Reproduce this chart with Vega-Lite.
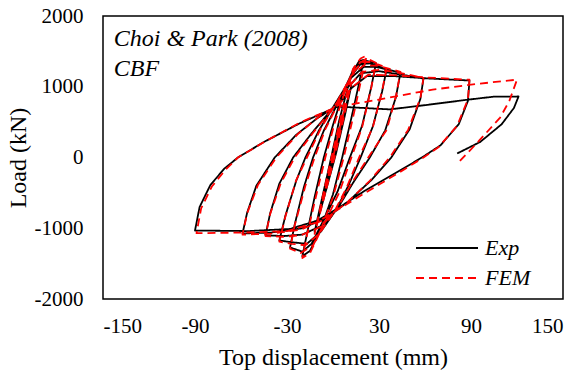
{
  "$schema": "https://vega.github.io/schema/vega-lite/v6.json",
  "width": 460,
  "height": 283,
  "autosize": {"type": "none"},
  "padding": {"left": 103, "top": 16, "right": 18, "bottom": 73},
  "background": "white",
  "config": {
    "view": {"stroke": "black", "strokeWidth": 1.5},
    "font": "Times New Roman, Liberation Serif, serif",
    "axis": {
      "labelFont": "Times New Roman, Liberation Serif, serif", "labelFontSize": 21, "labelColor": "black",
      "titleFont": "Times New Roman, Liberation Serif, serif", "titleFontSize": 24, "titleFontWeight": "normal", "titleColor": "black",
      "ticks": false, "grid": false, "domain": false
    },
    "legend": {"labelFont": "Times New Roman, Liberation Serif, serif"}
  },
  "datasets": {
    "curves": [
      {"series": "Exp", "i": 0, "x": 0, "y": 0},
      {"series": "Exp", "i": 1, "x": 7, "y": 620},
      {"series": "Exp", "i": 2, "x": 3, "y": 250},
      {"series": "Exp", "i": 3, "x": -1, "y": -100},
      {"series": "Exp", "i": 4, "x": -7, "y": -620},
      {"series": "Exp", "i": 5, "x": -3, "y": -230},
      {"series": "Exp", "i": 6, "x": 1, "y": 120},
      {"series": "Exp", "i": 7, "x": 12, "y": 1020},
      {"series": "Exp", "i": 8, "x": 8, "y": 620},
      {"series": "Exp", "i": 9, "x": 2, "y": 60},
      {"series": "Exp", "i": 10, "x": -4, "y": -420},
      {"series": "Exp", "i": 11, "x": -12, "y": -1050},
      {"series": "Exp", "i": 12, "x": -8, "y": -660},
      {"series": "Exp", "i": 13, "x": -2, "y": -80},
      {"series": "Exp", "i": 14, "x": 4, "y": 520},
      {"series": "Exp", "i": 15, "x": 12, "y": 1180},
      {"series": "Exp", "i": 16, "x": 17, "y": 1360},
      {"series": "Exp", "i": 17, "x": 20, "y": 1380},
      {"series": "Exp", "i": 18, "x": 17, "y": 1050},
      {"series": "Exp", "i": 19, "x": 12, "y": 560},
      {"series": "Exp", "i": 20, "x": 6, "y": 0},
      {"series": "Exp", "i": 21, "x": 0, "y": -520},
      {"series": "Exp", "i": 22, "x": -8, "y": -1010},
      {"series": "Exp", "i": 23, "x": -15, "y": -1320},
      {"series": "Exp", "i": 24, "x": -20, "y": -1395},
      {"series": "Exp", "i": 25, "x": -17, "y": -1080},
      {"series": "Exp", "i": 26, "x": -12, "y": -560},
      {"series": "Exp", "i": 27, "x": -6, "y": 0},
      {"series": "Exp", "i": 28, "x": 0, "y": 460},
      {"series": "Exp", "i": 29, "x": 6, "y": 880},
      {"series": "Exp", "i": 30, "x": 14, "y": 1280},
      {"series": "Exp", "i": 31, "x": 21, "y": 1370},
      {"series": "Exp", "i": 32, "x": 28, "y": 1330},
      {"series": "Exp", "i": 33, "x": 25, "y": 1000},
      {"series": "Exp", "i": 34, "x": 19, "y": 450},
      {"series": "Exp", "i": 35, "x": 11, "y": 0},
      {"series": "Exp", "i": 36, "x": 3, "y": -480},
      {"series": "Exp", "i": 37, "x": -6, "y": -880},
      {"series": "Exp", "i": 38, "x": -14, "y": -1220},
      {"series": "Exp", "i": 39, "x": -20, "y": -1330},
      {"series": "Exp", "i": 40, "x": -28, "y": -1272},
      {"series": "Exp", "i": 41, "x": -25, "y": -950},
      {"series": "Exp", "i": 42, "x": -19, "y": -420},
      {"series": "Exp", "i": 43, "x": -13, "y": 0},
      {"series": "Exp", "i": 44, "x": -6, "y": 380},
      {"series": "Exp", "i": 45, "x": 3, "y": 760},
      {"series": "Exp", "i": 46, "x": 11, "y": 1130},
      {"series": "Exp", "i": 47, "x": 18, "y": 1320},
      {"series": "Exp", "i": 48, "x": 24, "y": 1330},
      {"series": "Exp", "i": 49, "x": 35, "y": 1250},
      {"series": "Exp", "i": 50, "x": 32, "y": 930},
      {"series": "Exp", "i": 51, "x": 26, "y": 440},
      {"series": "Exp", "i": 52, "x": 18, "y": 0},
      {"series": "Exp", "i": 53, "x": 10, "y": -400},
      {"series": "Exp", "i": 54, "x": 2, "y": -740},
      {"series": "Exp", "i": 55, "x": -8, "y": -1050},
      {"series": "Exp", "i": 56, "x": -17, "y": -1220},
      {"series": "Exp", "i": 57, "x": -26, "y": -1200},
      {"series": "Exp", "i": 58, "x": -35, "y": -1173},
      {"series": "Exp", "i": 59, "x": -31, "y": -820},
      {"series": "Exp", "i": 60, "x": -24, "y": -330},
      {"series": "Exp", "i": 61, "x": -18, "y": 0},
      {"series": "Exp", "i": 62, "x": -9, "y": 390},
      {"series": "Exp", "i": 63, "x": 2, "y": 780},
      {"series": "Exp", "i": 64, "x": 12, "y": 1130},
      {"series": "Exp", "i": 65, "x": 20, "y": 1280},
      {"series": "Exp", "i": 66, "x": 28, "y": 1280},
      {"series": "Exp", "i": 67, "x": 44, "y": 1200},
      {"series": "Exp", "i": 68, "x": 41, "y": 850},
      {"series": "Exp", "i": 69, "x": 34, "y": 380},
      {"series": "Exp", "i": 70, "x": 24, "y": 0},
      {"series": "Exp", "i": 71, "x": 13, "y": -360},
      {"series": "Exp", "i": 72, "x": 3, "y": -720},
      {"series": "Exp", "i": 73, "x": -7, "y": -960},
      {"series": "Exp", "i": 74, "x": -20, "y": -1090},
      {"series": "Exp", "i": 75, "x": -32, "y": -1110},
      {"series": "Exp", "i": 76, "x": -44, "y": -1100},
      {"series": "Exp", "i": 77, "x": -41, "y": -790},
      {"series": "Exp", "i": 78, "x": -35, "y": -370},
      {"series": "Exp", "i": 79, "x": -26, "y": 0},
      {"series": "Exp", "i": 80, "x": -14, "y": 340},
      {"series": "Exp", "i": 81, "x": -2, "y": 650},
      {"series": "Exp", "i": 82, "x": 8, "y": 950},
      {"series": "Exp", "i": 83, "x": 18, "y": 1190},
      {"series": "Exp", "i": 84, "x": 30, "y": 1220},
      {"series": "Exp", "i": 85, "x": 45, "y": 1170},
      {"series": "Exp", "i": 86, "x": 59, "y": 1117},
      {"series": "Exp", "i": 87, "x": 57, "y": 830},
      {"series": "Exp", "i": 88, "x": 50, "y": 400},
      {"series": "Exp", "i": 89, "x": 38, "y": 0},
      {"series": "Exp", "i": 90, "x": 25, "y": -320},
      {"series": "Exp", "i": 91, "x": 10, "y": -620},
      {"series": "Exp", "i": 92, "x": -4, "y": -850},
      {"series": "Exp", "i": 93, "x": -20, "y": -1000},
      {"series": "Exp", "i": 94, "x": -40, "y": -1060},
      {"series": "Exp", "i": 95, "x": -59, "y": -1074},
      {"series": "Exp", "i": 96, "x": -56, "y": -780},
      {"series": "Exp", "i": 97, "x": -50, "y": -400},
      {"series": "Exp", "i": 98, "x": -38, "y": 0},
      {"series": "Exp", "i": 99, "x": -24, "y": 320},
      {"series": "Exp", "i": 100, "x": -10, "y": 560},
      {"series": "Exp", "i": 101, "x": 3, "y": 730},
      {"series": "Exp", "i": 102, "x": 12, "y": 980},
      {"series": "Exp", "i": 103, "x": 22, "y": 1150},
      {"series": "Exp", "i": 104, "x": 40, "y": 1150},
      {"series": "Exp", "i": 105, "x": 60, "y": 1120},
      {"series": "Exp", "i": 106, "x": 89, "y": 1088},
      {"series": "Exp", "i": 107, "x": 88, "y": 800},
      {"series": "Exp", "i": 108, "x": 82, "y": 470},
      {"series": "Exp", "i": 109, "x": 70, "y": 170},
      {"series": "Exp", "i": 110, "x": 58, "y": 0},
      {"series": "Exp", "i": 111, "x": 40, "y": -230},
      {"series": "Exp", "i": 112, "x": 20, "y": -480},
      {"series": "Exp", "i": 113, "x": 3, "y": -720},
      {"series": "Exp", "i": 114, "x": -10, "y": -890},
      {"series": "Exp", "i": 115, "x": -28, "y": -1010},
      {"series": "Exp", "i": 116, "x": -55, "y": -1040},
      {"series": "Exp", "i": 117, "x": -90, "y": -1032},
      {"series": "Exp", "i": 118, "x": -87, "y": -700},
      {"series": "Exp", "i": 119, "x": -80, "y": -390},
      {"series": "Exp", "i": 120, "x": -71, "y": -160},
      {"series": "Exp", "i": 121, "x": -62, "y": 0},
      {"series": "Exp", "i": 122, "x": -45, "y": 220},
      {"series": "Exp", "i": 123, "x": -22, "y": 480},
      {"series": "Exp", "i": 124, "x": 3, "y": 720},
      {"series": "Exp", "i": 125, "x": 20, "y": 700},
      {"series": "Exp", "i": 126, "x": 37, "y": 680},
      {"series": "Exp", "i": 127, "x": 60, "y": 740},
      {"series": "Exp", "i": 128, "x": 89, "y": 820},
      {"series": "Exp", "i": 129, "x": 105, "y": 860},
      {"series": "Exp", "i": 130, "x": 121, "y": 862},
      {"series": "Exp", "i": 131, "x": 118, "y": 700},
      {"series": "Exp", "i": 132, "x": 110, "y": 470},
      {"series": "Exp", "i": 133, "x": 96, "y": 220},
      {"series": "Exp", "i": 134, "x": 81, "y": 57},

      {"series": "FEM", "i": 0, "x": 0, "y": 0},
      {"series": "FEM", "i": 1, "x": 7, "y": 640},
      {"series": "FEM", "i": 2, "x": 2, "y": 200},
      {"series": "FEM", "i": 3, "x": -7, "y": -640},
      {"series": "FEM", "i": 4, "x": -2, "y": -180},
      {"series": "FEM", "i": 5, "x": 12, "y": 1060},
      {"series": "FEM", "i": 6, "x": 7, "y": 560},
      {"series": "FEM", "i": 7, "x": 1, "y": 0},
      {"series": "FEM", "i": 8, "x": -12, "y": -1080},
      {"series": "FEM", "i": 9, "x": -7, "y": -580},
      {"series": "FEM", "i": 10, "x": -1, "y": 0},
      {"series": "FEM", "i": 11, "x": 5, "y": 560},
      {"series": "FEM", "i": 12, "x": 13, "y": 1250},
      {"series": "FEM", "i": 13, "x": 18, "y": 1400},
      {"series": "FEM", "i": 14, "x": 22, "y": 1442},
      {"series": "FEM", "i": 15, "x": 18, "y": 1060},
      {"series": "FEM", "i": 16, "x": 13, "y": 560},
      {"series": "FEM", "i": 17, "x": 7, "y": 0},
      {"series": "FEM", "i": 18, "x": 0, "y": -560},
      {"series": "FEM", "i": 19, "x": -9, "y": -1080},
      {"series": "FEM", "i": 20, "x": -15, "y": -1350},
      {"series": "FEM", "i": 21, "x": -20, "y": -1420},
      {"series": "FEM", "i": 22, "x": -17, "y": -1100},
      {"series": "FEM", "i": 23, "x": -11, "y": -540},
      {"series": "FEM", "i": 24, "x": -5, "y": 0},
      {"series": "FEM", "i": 25, "x": 1, "y": 480},
      {"series": "FEM", "i": 26, "x": 8, "y": 950},
      {"series": "FEM", "i": 27, "x": 15, "y": 1300},
      {"series": "FEM", "i": 28, "x": 22, "y": 1400},
      {"series": "FEM", "i": 29, "x": 28, "y": 1340},
      {"series": "FEM", "i": 30, "x": 25, "y": 990},
      {"series": "FEM", "i": 31, "x": 19, "y": 430},
      {"series": "FEM", "i": 32, "x": 12, "y": 0},
      {"series": "FEM", "i": 33, "x": 4, "y": -500},
      {"series": "FEM", "i": 34, "x": -5, "y": -900},
      {"series": "FEM", "i": 35, "x": -13, "y": -1240},
      {"series": "FEM", "i": 36, "x": -21, "y": -1350},
      {"series": "FEM", "i": 37, "x": -28, "y": -1290},
      {"series": "FEM", "i": 38, "x": -25, "y": -960},
      {"series": "FEM", "i": 39, "x": -18, "y": -400},
      {"series": "FEM", "i": 40, "x": -12, "y": 0},
      {"series": "FEM", "i": 41, "x": -5, "y": 400},
      {"series": "FEM", "i": 42, "x": 4, "y": 790},
      {"series": "FEM", "i": 43, "x": 12, "y": 1170},
      {"series": "FEM", "i": 44, "x": 19, "y": 1350},
      {"series": "FEM", "i": 45, "x": 25, "y": 1350},
      {"series": "FEM", "i": 46, "x": 35, "y": 1270},
      {"series": "FEM", "i": 47, "x": 32, "y": 940},
      {"series": "FEM", "i": 48, "x": 26, "y": 430},
      {"series": "FEM", "i": 49, "x": 17, "y": 0},
      {"series": "FEM", "i": 50, "x": 9, "y": -420},
      {"series": "FEM", "i": 51, "x": 1, "y": -760},
      {"series": "FEM", "i": 52, "x": -9, "y": -1080},
      {"series": "FEM", "i": 53, "x": -18, "y": -1240},
      {"series": "FEM", "i": 54, "x": -27, "y": -1220},
      {"series": "FEM", "i": 55, "x": -35, "y": -1190},
      {"series": "FEM", "i": 56, "x": -31, "y": -830},
      {"series": "FEM", "i": 57, "x": -24, "y": -320},
      {"series": "FEM", "i": 58, "x": -17, "y": 0},
      {"series": "FEM", "i": 59, "x": -8, "y": 410},
      {"series": "FEM", "i": 60, "x": 3, "y": 800},
      {"series": "FEM", "i": 61, "x": 12, "y": 1160},
      {"series": "FEM", "i": 62, "x": 20, "y": 1300},
      {"series": "FEM", "i": 63, "x": 29, "y": 1300},
      {"series": "FEM", "i": 64, "x": 44, "y": 1210},
      {"series": "FEM", "i": 65, "x": 41, "y": 860},
      {"series": "FEM", "i": 66, "x": 35, "y": 390},
      {"series": "FEM", "i": 67, "x": 23, "y": 0},
      {"series": "FEM", "i": 68, "x": 12, "y": -370},
      {"series": "FEM", "i": 69, "x": 2, "y": -740},
      {"series": "FEM", "i": 70, "x": -8, "y": -980},
      {"series": "FEM", "i": 71, "x": -21, "y": -1100},
      {"series": "FEM", "i": 72, "x": -33, "y": -1120},
      {"series": "FEM", "i": 73, "x": -44, "y": -1110},
      {"series": "FEM", "i": 74, "x": -41, "y": -800},
      {"series": "FEM", "i": 75, "x": -34, "y": -360},
      {"series": "FEM", "i": 76, "x": -25, "y": 0},
      {"series": "FEM", "i": 77, "x": -13, "y": 350},
      {"series": "FEM", "i": 78, "x": -1, "y": 670},
      {"series": "FEM", "i": 79, "x": 9, "y": 970},
      {"series": "FEM", "i": 80, "x": 19, "y": 1210},
      {"series": "FEM", "i": 81, "x": 31, "y": 1240},
      {"series": "FEM", "i": 82, "x": 45, "y": 1190},
      {"series": "FEM", "i": 83, "x": 59, "y": 1125},
      {"series": "FEM", "i": 84, "x": 57, "y": 840},
      {"series": "FEM", "i": 85, "x": 49, "y": 390},
      {"series": "FEM", "i": 86, "x": 37, "y": 0},
      {"series": "FEM", "i": 87, "x": 24, "y": -330},
      {"series": "FEM", "i": 88, "x": 9, "y": -640},
      {"series": "FEM", "i": 89, "x": -5, "y": -870},
      {"series": "FEM", "i": 90, "x": -21, "y": -1020},
      {"series": "FEM", "i": 91, "x": -40, "y": -1075},
      {"series": "FEM", "i": 92, "x": -59, "y": -1090},
      {"series": "FEM", "i": 93, "x": -56, "y": -790},
      {"series": "FEM", "i": 94, "x": -49, "y": -390},
      {"series": "FEM", "i": 95, "x": -37, "y": 0},
      {"series": "FEM", "i": 96, "x": -23, "y": 330},
      {"series": "FEM", "i": 97, "x": -9, "y": 580},
      {"series": "FEM", "i": 98, "x": 4, "y": 750},
      {"series": "FEM", "i": 99, "x": 13, "y": 1000},
      {"series": "FEM", "i": 100, "x": 23, "y": 1170},
      {"series": "FEM", "i": 101, "x": 42, "y": 1160},
      {"series": "FEM", "i": 102, "x": 62, "y": 1130},
      {"series": "FEM", "i": 103, "x": 89, "y": 1100},
      {"series": "FEM", "i": 104, "x": 88, "y": 820},
      {"series": "FEM", "i": 105, "x": 81, "y": 450},
      {"series": "FEM", "i": 106, "x": 69, "y": 150},
      {"series": "FEM", "i": 107, "x": 59, "y": 0},
      {"series": "FEM", "i": 108, "x": 41, "y": -240},
      {"series": "FEM", "i": 109, "x": 21, "y": -500},
      {"series": "FEM", "i": 110, "x": 3, "y": -740},
      {"series": "FEM", "i": 111, "x": -11, "y": -920},
      {"series": "FEM", "i": 112, "x": -30, "y": -1040},
      {"series": "FEM", "i": 113, "x": -56, "y": -1060},
      {"series": "FEM", "i": 114, "x": -89, "y": -1070},
      {"series": "FEM", "i": 115, "x": -86, "y": -720},
      {"series": "FEM", "i": 116, "x": -79, "y": -410},
      {"series": "FEM", "i": 117, "x": -70, "y": -170},
      {"series": "FEM", "i": 118, "x": -62, "y": 0},
      {"series": "FEM", "i": 119, "x": -44, "y": 230},
      {"series": "FEM", "i": 120, "x": -21, "y": 500},
      {"series": "FEM", "i": 121, "x": 3, "y": 720},
      {"series": "FEM", "i": 122, "x": 20, "y": 780},
      {"series": "FEM", "i": 123, "x": 40, "y": 860},
      {"series": "FEM", "i": 124, "x": 65, "y": 960},
      {"series": "FEM", "i": 125, "x": 96, "y": 1045},
      {"series": "FEM", "i": 126, "x": 120, "y": 1100},
      {"series": "FEM", "i": 127, "x": 115, "y": 800},
      {"series": "FEM", "i": 128, "x": 109, "y": 565},
      {"series": "FEM", "i": 129, "x": 95, "y": 230},
      {"series": "FEM", "i": 130, "x": 81, "y": -90}
    ],
    "notes": [
      {"label": "Choi & Park (2008)", "nx": -143, "ny": 1583},
      {"label": "CBF", "nx": -143, "ny": 1159}
    ]
  },
  "layer": [
    {
      "mark": {"type": "rule", "color": "black", "strokeWidth": 1.3},
      "encoding": {"x": {"datum": 0, "type": "quantitative"}}
    },
    {
      "mark": {"type": "rule", "color": "black", "strokeWidth": 1.3},
      "encoding": {"y": {"datum": 0, "type": "quantitative"}}
    },
    {
      "data": {"name": "curves"},
      "mark": {"type": "line", "strokeWidth": 1.8, "strokeJoin": "round"},
      "encoding": {
        "x": {
          "field": "x", "type": "quantitative",
          "scale": {"domain": [-150, 150], "nice": false, "zero": false},
          "axis": {"values": [-150, -90, -30, 30, 90, 150], "labelExpr": "'' + datum.value", "title": "Top displacement (mm)", "labelPadding": 16, "titlePadding": 9}
        },
        "y": {
          "field": "y", "type": "quantitative",
          "scale": {"domain": [-2000, 2000], "nice": false},
          "axis": {"values": [-2000, -1500, -1000, -500, 0, 500, 1000, 1500, 2000], "labelExpr": "'' + datum.value", "title": "Load (kN)", "labelPadding": 20, "titlePadding": 4}
        },
        "order": {"field": "i", "type": "quantitative"},
        "color": {
          "field": "series", "type": "nominal",
          "scale": {"domain": ["Exp", "FEM"], "range": ["black", "#ff0000"]},
          "legend": {"title": null, "orient": "none", "legendX": 333, "legendY": 221, "padding": 0, "symbolType": "M-3.1,0H3.1", "symbolSize": 400, "symbolStrokeWidth": 2, "labelFontStyle": "italic", "labelFontSize": 22, "labelColor": "black", "labelOffset": 27, "rowPadding": 8}
        },
        "strokeDash": {
          "field": "series", "type": "nominal",
          "scale": {"domain": ["Exp", "FEM"], "range": [[1, 0], [8, 5]]},
          "legend": {"title": null, "orient": "none", "legendX": 333, "legendY": 221, "padding": 0, "symbolType": "M-3.1,0H3.1", "symbolSize": 400, "symbolStrokeWidth": 2, "labelFontStyle": "italic", "labelFontSize": 22, "labelColor": "black", "labelOffset": 27, "rowPadding": 8}
        }
      }
    },
    {
      "data": {"name": "notes"},
      "mark": {"type": "text", "align": "left", "baseline": "alphabetic", "font": "Times New Roman, Liberation Serif, serif", "fontStyle": "italic", "fontSize": 24, "color": "black"},
      "encoding": {
        "x": {"field": "nx", "type": "quantitative"},
        "y": {"field": "ny", "type": "quantitative"},
        "text": {"field": "label", "type": "nominal"}
      }
    }
  ]
}
